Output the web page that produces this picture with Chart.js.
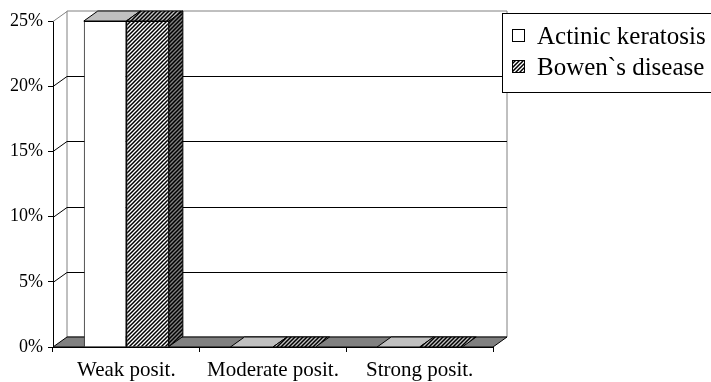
<!DOCTYPE html>
<html>
<head>
<meta charset="utf-8">
<script src="https://cdn.jsdelivr.net/npm/chart.js@4"></script>
<style>
  html, body { margin: 0; padding: 0; background: #fff; }
  #wrap { width: 711px; height: 382px; }
</style>
</head>
<body>
<div id="wrap"><canvas id="chart" width="711" height="382"></canvas></div>
<script>
const categories = ['Weak posit.', 'Moderate posit.', 'Strong posit.'];
const seriesNames = ['Actinic keratosis', 'Bowen`s disease'];
const actinicValues = [25, 0, 0];
const bowenValues = [25, 0, 0];
const yTickValues = [0, 5, 10, 15, 20, 25];

// 3D depth offset of the back wall
const DX = 14, DY = -10;

function hatch(bg) {
  const c = document.createElement('canvas');
  c.width = c.height = 4;
  const g = c.getContext('2d');
  g.fillStyle = bg;
  g.fillRect(0, 0, 4, 4);
  g.strokeStyle = '#000';
  g.lineWidth = 1.5;
  g.beginPath();
  g.moveTo(-1, 5); g.lineTo(5, -1);
  g.moveTo(-1, 1); g.lineTo(1, -1);
  g.moveTo(3, 5); g.lineTo(5, 3);
  g.stroke();
  return g.createPattern(c, 'repeat');
}

const ctx = document.getElementById('chart').getContext('2d');
const fronts = ['#ffffff', hatch('#ffffff')];
const tops = ['#c0c0c0', hatch('#c0c0c0')];
const sides = ['#808080', hatch('#808080')];

function poly(c, pts, fill, stroke) {
  c.beginPath();
  c.moveTo(pts[0][0], pts[0][1]);
  pts.slice(1).forEach(p => c.lineTo(p[0], p[1]));
  c.closePath();
  c.fillStyle = fill;
  c.fill();
  if (stroke) { c.strokeStyle = stroke; c.lineWidth = 1; c.stroke(); }
}

const scene3d = {
  id: 'scene3d',
  beforeDatasetsDraw(chart) {
    const c = chart.ctx;
    const x = chart.scales.x, y = chart.scales.y;
    const L = x.left, R = x.right, B = y.getPixelForValue(0), T = y.getPixelForValue(25);
    c.save();
    // back wall
    poly(c, [[L + DX, T + DY], [R + DX, T + DY], [R + DX, B + DY], [L + DX, B + DY]], '#fff', '#808080');
    // grid lines on back wall + side wall
    yTickValues.forEach(v => {
      if (v === 0) return;
      const py = Math.round(y.getPixelForValue(v)) + 0.5;
      c.strokeStyle = v === 25 ? '#808080' : '#000';
      c.lineWidth = 1;
      c.beginPath();
      c.moveTo(L, py);
      c.lineTo(L + DX, py + DY);
      if (v !== 25) c.lineTo(R + DX, py + DY);
      c.stroke();
    });
    // floor
    poly(c, [[L, B], [R, B], [R + DX, B + DY], [L + DX, B + DY]], '#808080', '#000');
    // bar side and top faces
    chart.data.datasets.forEach((ds, di) => {
      chart.getDatasetMeta(di).data.forEach(bar => {
        const x1 = bar.x - bar.width / 2, x2 = bar.x + bar.width / 2;
        const top = bar.y;
        if (bar.base - top > 1) {
          poly(c, [[x2, top], [x2 + DX, top + DY], [x2 + DX, bar.base + DY], [x2, bar.base]], sides[di], '#000');
        }
        poly(c, [[x1, top], [x2, top], [x2 + DX, top + DY], [x1 + DX, top + DY]], tops[di], '#000');
      });
    });
    c.restore();
  },
  afterDraw(chart) {
    const c = chart.ctx;
    c.save();
    // legend box
    c.fillStyle = '#fff';
    c.fillRect(502.5, 13.5, 240, 79);
    c.strokeStyle = '#000';
    c.lineWidth = 1;
    c.strokeRect(502.5, 13.5, 240, 79);
    c.font = "25px 'Liberation Serif', serif";
    c.textBaseline = 'middle';
    seriesNames.forEach((name, i) => {
      const cy = 36 + i * 31;
      c.fillStyle = fronts[i];
      c.fillRect(512.5, cy - 6.5, 12, 12);
      c.strokeStyle = '#000';
      c.strokeRect(512.5, cy - 6.5, 12, 12);
      c.fillStyle = '#000';
      c.fillText(name, 537, cy + 1);
    });
    c.restore();
  }
};

new Chart(ctx, {
  type: 'bar',
  data: {
    labels: categories,
    datasets: [
      { label: seriesNames[0], data: actinicValues, backgroundColor: fronts[0], borderColor: '#000', borderWidth: 1 },
      { label: seriesNames[1], data: bowenValues, backgroundColor: fronts[1], borderColor: '#000', borderWidth: 1 }
    ]
  },
  options: {
    responsive: false,
    animation: false,
    devicePixelRatio: 1,
    layout: { padding: { left: 0, right: 218, top: 21, bottom: 0 } },
    datasets: { bar: { categoryPercentage: 0.58, barPercentage: 1 } },
    plugins: { legend: { display: false }, tooltip: { enabled: false } },
    scales: {
      x: {
        grid: { offset: true, drawOnChartArea: false, color: '#000', tickLength: 5 },
        border: { color: '#000' },
        ticks: { color: '#000', padding: 6, font: { family: "'Liberation Serif', serif", size: 21 } },
        afterFit: s => { s.height = 35; }
      },
      y: {
        min: 0, max: 25,
        afterBuildTicks: s => { s.ticks = yTickValues.map(v => ({ value: v })); },
        grid: { drawOnChartArea: false, color: '#000', tickLength: 5 },
        border: { color: '#000' },
        ticks: { color: '#000', padding: 5, font: { family: "'Liberation Serif', serif", size: 18 }, callback: v => v + '%' },
        afterFit: s => { s.width = 53; }
      }
    }
  },
  plugins: [scene3d]
});
</script>
</body>
</html>
